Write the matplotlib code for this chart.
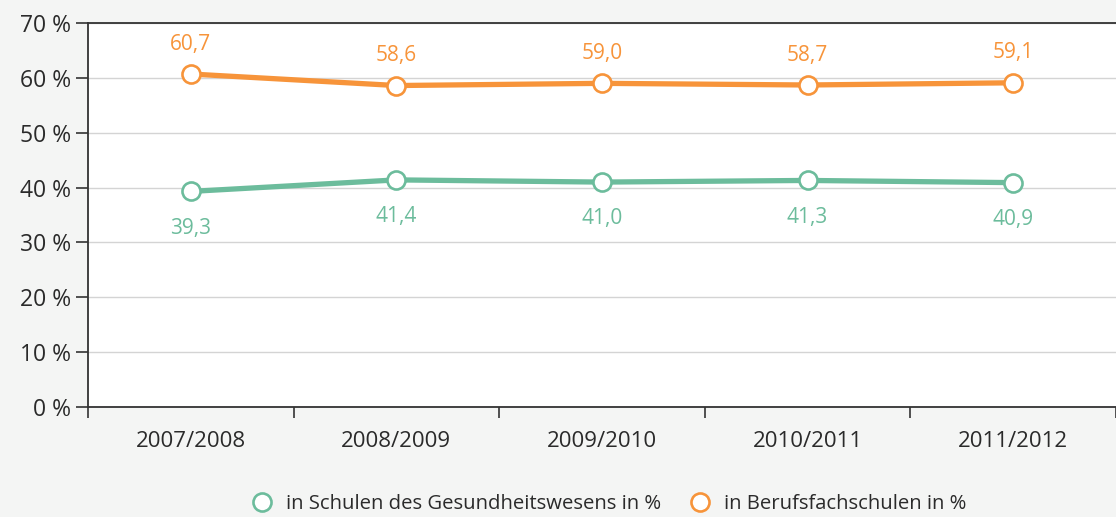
import matplotlib
matplotlib.use("Agg")
import matplotlib.pyplot as plt
from matplotlib.lines import Line2D
import numpy as np

plt.rcParams['font.family'] = ['Open Sans', 'DejaVu Sans']

# Daten
years = ['2007/2008', '2008/2009', '2009/2010', '2010/2011', '2011/2012']
gesundheit = [39.3, 41.4, 41.0, 41.3, 40.9]
berufsfach = [60.7, 58.6, 59.0, 58.7, 59.1]
yticks = [0, 10, 20, 30, 40, 50, 60, 70]

GREEN = '#6cbc9c'
ORANGE = '#f7943a'
BG = '#f4f5f4'
TXT = '#2a2a2a'

fig = plt.figure(figsize=(11.16, 5.17), dpi=100, facecolor=BG)
ax = fig.add_axes([88 / 1116, 1 - 407 / 517, 1 - 88 / 1116, (407 - 23) / 517])
ax.set_facecolor('white')

x = np.arange(len(years))

for vals, col, off in [(gesundheit, GREEN, -26.5), (berufsfach, ORANGE, 21.5)]:
    ax.plot(x, vals, color=col, lw=3.8, marker='o', ms=13, mfc='white',
            mec=col, mew=1.9, zorder=3, solid_capstyle='butt')
    for xi, v in zip(x, vals):
        ax.annotate(f'{v:.1f}'.replace('.', ','), (xi, v), xytext=(0, off),
                    textcoords='offset points', ha='center', va='center',
                    color=col, fontsize=15)

ax.set_xlim(-0.5, len(years) - 0.5)
ax.set_ylim(0, 70)
ax.set_yticks(yticks)
ax.set_yticklabels([f'{t} %' for t in yticks])
ax.set_xticks(x)
ax.set_xticklabels(years)
ax.set_xticks(np.arange(-0.5, len(years)), minor=True)
ax.tick_params(axis='x', which='major', length=0, pad=17, labelsize=16, labelcolor=TXT)
ax.tick_params(axis='x', which='minor', length=8, width=1.2, color='#333333')
ax.tick_params(axis='y', length=9, width=1.2, color='#333333', labelsize=16.5,
               labelcolor=TXT, pad=3)

ax.grid(axis='y', color='#d4d4d4', lw=1)
ax.set_axisbelow(True)
for s in ['left', 'bottom', 'top']:
    ax.spines[s].set_color('#333333')
    ax.spines[s].set_linewidth(1.3)
ax.spines['right'].set_visible(False)

handles = [
    Line2D([], [], ls='none', marker='o', ms=13, mfc='white', mec=GREEN, mew=1.9,
           label='in Schulen des Gesundheitswesens in %'),
    Line2D([], [], ls='none', marker='o', ms=13, mfc='white', mec=ORANGE, mew=1.9,
           label='in Berufsfachschulen in %'),
]
fig.legend(handles=handles, loc='center', bbox_to_anchor=(0.541, 1 - 504 / 517),
           ncol=2, frameon=False, fontsize=14.6, handletextpad=0.2,
           columnspacing=0.9, labelcolor=TXT)

fig.savefig('out.png', dpi=100, facecolor=BG)
